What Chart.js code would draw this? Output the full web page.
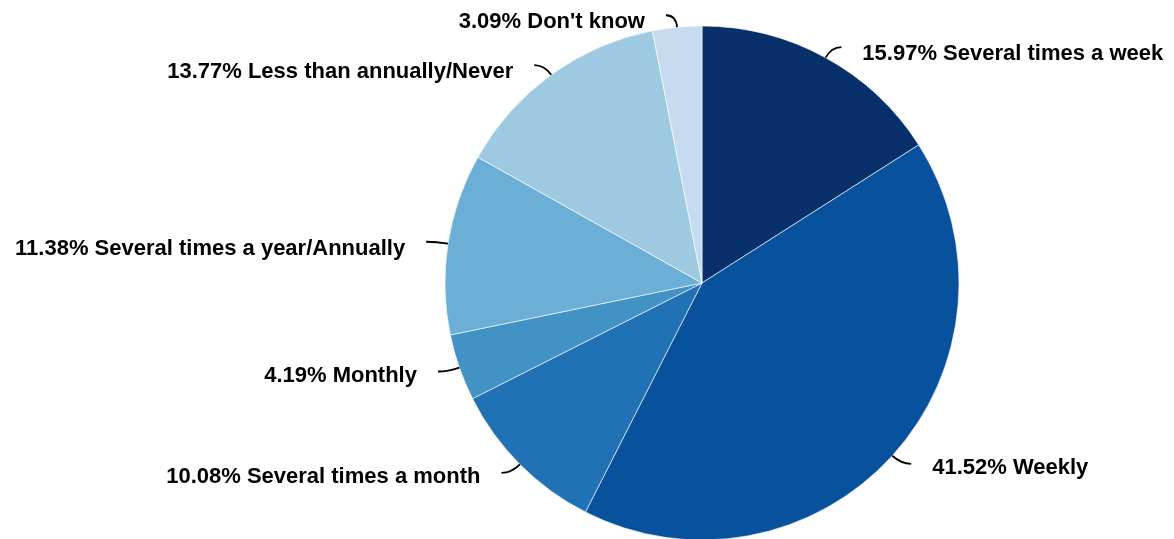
<!DOCTYPE html>
<html>
<head>
<meta charset="utf-8">
<script src="https://cdn.jsdelivr.net/npm/chart.js@4/dist/chart.umd.min.js"></script>
<style>
  html,body{margin:0;padding:0;background:#fff;}
  #wrap{position:relative;width:1174px;height:539px;}
</style>
</head>
<body>
<div id="wrap"><canvas id="pie"></canvas></div>
<script>
/* Frequency pie with outside labels + curved leader lines */
var categories=['Several times a week','Weekly','Several times a month','Monthly',
  'Several times a year/Annually','Less than annually/Never',"Don't know"];
var shares=[15.97,41.52,10.08,4.19,11.38,13.77,3.09];
var sliceColors=['#08306b','#08519c','#2171b5','#4292c6','#6baed6','#9ecae1','#c6dbef'];

(function(){
  var canvas=document.getElementById('pie');
  if(!canvas||typeof Chart==='undefined')return;

  // labels drawn after the pie: short radial stub bending into a horizontal tick
  var leaderLabels={
    id:'leaderLabels',
    afterDraw:function(chart){
      var ctx=chart.ctx;
      var arcs=chart.getDatasetMeta(0).data;
      ctx.save();
      ctx.strokeStyle='#000';
      ctx.lineWidth=1.8;
      ctx.fillStyle='#000';
      ctx.font="bold 22px 'Liberation Sans', Arial, sans-serif";
      ctx.textBaseline='middle';
      arcs.forEach(function(arc,i){
        var p=arc.getProps(['x','y','startAngle','endAngle','outerRadius'],true);
        var mid=(p.startAngle+p.endAngle)/2;
        var c=Math.cos(mid),s=Math.sin(mid);
        var right=c>=0;
        var x0=p.x+c*p.outerRadius,y0=p.y+s*p.outerRadius;
        var x1=p.x+c*(p.outerRadius+12),y1=p.y+s*(p.outerRadius+12);
        var x2=x1+(right?10:-10);
        ctx.beginPath();
        ctx.moveTo(x0,y0);
        ctx.quadraticCurveTo(x1,y1,x2,y1);
        ctx.stroke();
        ctx.textAlign=right?'left':'right';
        ctx.fillText(shares[i].toFixed(2)+'% '+categories[i],x2+(right?21:-21),y1+(s<0?7:4));
      });
      ctx.restore();
    }
  };

  new Chart(canvas.getContext('2d'),{
    type:'pie',
    data:{labels:categories,datasets:[{
      data:shares,backgroundColor:sliceColors,
      borderColor:'#ffffff',borderWidth:0.6,radius:257,clip:false
    }]},
    options:{
      responsive:true,maintainAspectRatio:false,animation:false,
      layout:{padding:{left:230,top:27,right:0,bottom:0}},
      plugins:{legend:{display:false},tooltip:{enabled:false}}
    },
    plugins:[leaderLabels]
  });
})();
</script>
</body>
</html>
